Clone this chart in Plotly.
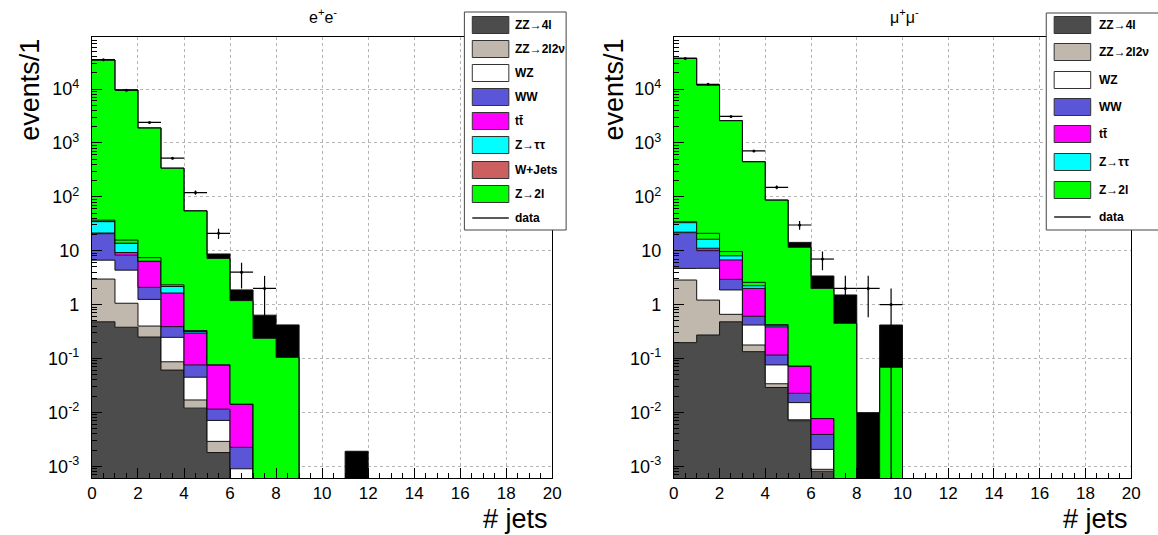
import numpy as np
import plotly.graph_objects as go

# ---------------- data (events per jet-multiplicity bin, bins 0..19) ----------------
n_bins = 20
bin_low = list(range(n_bins))

# e+e- channel
ee_zz4l   = [0.48, 0.38, 0.25, 0.061, 0.012, 0.0018]
ee_zz2l2v = [2.5, 0.68, 0.15, 0.026, 0.005, 0.0011]
ee_wz     = [3.7, 3.3, 0.85, 0.16, 0.028, 0.0042, 0.0009]
ee_ww     = [14.0, 3.9, 0.84, 0.143, 0.031, 0.0044, 0.00135]
ee_tt     = [0.6, 1.0, 4.2, 1.25, 0.22, 0.065, 0.012]
ee_ztt    = [13.3, 4.4, 0.1, 0.53, 0.02]
ee_wjets  = [0.3, 0.1]
ee_zll_b  = [2.0, 2.0, 1.05, 0.16, 0.014]
ee_zll    = [34560, 9584, 1893, 338, 54.7, 7.12, 1.17, 0.237, 0.105]
ee_other  = [0, 0, 0, 0, 0, 1.5, 0.69, 0.40, 0.315, 0, 0, 0.0019]
ee_data   = [35000, 9500, 2400, 520, 120, 21, 4, 2]

# mu+mu- channel
mm_zz4l   = [0.197, 0.273, 0.48, 0.134, 0.029, 0.007, 0.00081]
mm_zz2l2v = [2.66, 0.94, 0.18, 0.044, 0.005, 0.0003, 0.00007]
mm_wz     = [1.84, 3.5, 1.21, 0.24, 0.042, 0.0079, 0.00118]
mm_ww     = [16.9, 5.3, 1.07, 0.19, 0.040, 0.0074, 0.00184]
mm_tt     = [0.5, 1.1, 3.8, 1.39, 0.27, 0.05, 0.0038]
mm_ztt    = [11.0, 5.2, 1.3, 0.24, 0.02]
mm_zll_b  = [1.4, 4.7, 1.6, 0.35, 0.02]
mm_zll    = [37065, 11848, 2580, 446, 86.6, 11.5, 1.99, 0.45, 0, 0.0686]
mm_other  = [0, 0, 0, 0, 0, 2.7, 1.4, 1.06, 0.0099, 0.35]
mm_data   = [37000, 12200, 3100, 710, 150, 30, 7, 2, 2, 1]

sample_labels = ["ZZ\u21924l", "ZZ\u21922l2\u03bd", "WZ", "WW", "tt\u0304",
                 "Z\u2192\u03c4\u03c4", "W+Jets", "Z\u21922l"]
y_tick_vals = [1e-3, 1e-2, 1e-1, 1, 10, 1e2, 1e3, 1e4]
y_tick_text = ["10<sup>-3</sup>", "10<sup>-2</sup>", "10<sup>-1</sup>", "1", "10",
               "10<sup>2</sup>", "10<sup>3</sup>", "10<sup>4</sup>"]
x_tick_vals = list(range(0, 21, 2))

# ---------------- styles ----------------
COL = {"zz4l": "#4c4c4c", "zz2l2v": "#c0b7ad", "wz": "#ffffff", "ww": "#5b56d8",
       "tt": "#ff00ff", "ztt": "#00ffff", "wjets": "#cc5f5f", "zll": "#00ff00",
       "other": "#000000"}
FONT = "Liberation Sans, Arial, Helvetica, sans-serif"
W, H = 1158, 535
FLOOR = 1e-6


def full(v):
    a = np.zeros(n_bins)
    a[:len(v)] = v
    return a


def px(x):
    return x / W


def py(y):
    return 1 - y / H


fig = go.Figure()


def add_stack(comps, xa, ya):
    edges = np.arange(n_bins + 1)
    cum = np.zeros(n_bins)
    base = np.maximum(np.append(cum, cum[-1]), FLOOR)
    fig.add_trace(go.Scatter(x=edges, y=base, mode="lines", line=dict(width=0, shape="hv"),
                             xaxis=xa, yaxis=ya, showlegend=False, hoverinfo="skip"))
    for vals, color in comps:
        cum = cum + full(vals)
        yy = np.maximum(np.append(cum, cum[-1]), FLOOR)
        fig.add_trace(go.Scatter(x=edges, y=yy, mode="lines",
                                 line=dict(color="#111111", width=1, shape="hv"),
                                 fill="tonexty", fillcolor=color,
                                 xaxis=xa, yaxis=ya, showlegend=False))


def add_data(vals, xa, ya):
    v = np.array(vals, float)
    x = np.arange(len(v)) + 0.5
    err = np.sqrt(v)
    dn = np.minimum(err, v - 1e-5)
    fig.add_trace(go.Scatter(x=x, y=v, mode="markers",
                             marker=dict(color="black", size=3),
                             error_x=dict(type="constant", value=0.5, width=0, thickness=1.2, color="black"),
                             error_y=dict(type="data", array=err, arrayminus=dn, width=0,
                                          thickness=1.2, color="black"),
                             xaxis=xa, yaxis=ya, showlegend=False))


add_stack([(ee_zz4l, COL["zz4l"]), (ee_zz2l2v, COL["zz2l2v"]), (ee_wz, COL["wz"]),
           (ee_ww, COL["ww"]), (ee_tt, COL["tt"]), (ee_ztt, COL["ztt"]),
           (ee_wjets, COL["wjets"]), (ee_zll_b, COL["zll"]), (ee_zll, COL["zll"]),
           (ee_other, COL["other"])], "x", "y")
add_data(ee_data, "x", "y")

add_stack([(mm_zz4l, COL["zz4l"]), (mm_zz2l2v, COL["zz2l2v"]), (mm_wz, COL["wz"]),
           (mm_ww, COL["ww"]), (mm_tt, COL["tt"]), (mm_ztt, COL["ztt"]),
           (mm_zll_b, COL["zll"]), (mm_zll, COL["zll"]),
           (mm_other, COL["other"])], "x2", "y2")
add_data(mm_data, "x2", "y2")

minor_y = [k * 10.0 ** e for e in range(-4, 5) for k in range(2, 10)]

xax = dict(range=[0, 20], tickvals=x_tick_vals, ticks="inside", ticklen=10, tickcolor="black",
           showgrid=True, gridcolor="#b5b5b5", griddash="dot", gridwidth=1,
           showline=True, mirror=True, linecolor="black", linewidth=1, zeroline=False,
           tickfont=dict(family=FONT, size=17, color="black"),
           minor=dict(dtick=0.5, tick0=0, ticks="inside", ticklen=5, tickcolor="black", showgrid=False))
yax = dict(type="log", range=[-3.217, 4.965], tickvals=y_tick_vals, ticktext=y_tick_text,
           ticks="inside", ticklen=10, tickcolor="black",
           showgrid=True, gridcolor="#b5b5b5", griddash="dot", gridwidth=1,
           showline=True, mirror=True, linecolor="black", linewidth=1, zeroline=False,
           tickfont=dict(family=FONT, size=18, color="black"), ticklabelstandoff=8,
           minor=dict(tickmode="array", tickvals=minor_y, ticks="inside", ticklen=5,
                      tickcolor="black", showgrid=False))

fig.update_layout(
    width=W, height=H, margin=dict(l=0, r=0, t=0, b=0, pad=0),
    paper_bgcolor="white", plot_bgcolor="white", showlegend=False,
    xaxis=dict(xax, domain=[px(88), px(554)], anchor="y"),
    yaxis=dict(yax, domain=[py(478), py(37)], anchor="x"),
    xaxis2=dict(xax, domain=[px(677), px(1140)], anchor="y2"),
    yaxis2=dict(yax, domain=[py(478), py(37)], anchor="x2"),
)

ann = []
shapes = []
# titles and axis titles
for cx, title in [(322, "e<sup>+</sup>e<sup>-</sup>"), (911, "\u03bc<sup>+</sup>\u03bc<sup>-</sup>")]:
    ann.append(dict(x=px(cx), y=py(16), xref="paper", yref="paper", text=title, showarrow=False,
                     xanchor="center", yanchor="middle", font=dict(family=FONT, size=16, color="black")))
for xl, xr in [(25, 552), (616, 1139)]:
    ann.append(dict(x=px(xl), y=py(37), xref="paper", yref="paper", text="events/1", textangle=-90,
                     showarrow=False, xanchor="center", yanchor="top",
                     font=dict(family=FONT, size=27, color="black")))
    ann.append(dict(x=px(xr), y=py(519), xref="paper", yref="paper", text="# jets",
                     showarrow=False, xanchor="right", yanchor="middle",
                     font=dict(family=FONT, size=27, color="black")))

# legends (ROOT-style boxes)
legend_specs = [
    dict(box=(465, 12, 568, 230), sw=(473, 510), tx=514,
         rows=[25, 49, 73, 97, 121, 145, 170, 194], data_row=218,
         items=[0, 1, 2, 3, 4, 5, 6, 7]),
    dict(box=(1054, 13, 1170, 230), sw=(1062, 1099), tx=1105,
         rows=[25, 52, 80, 107, 134, 162, 190], data_row=217,
         items=[0, 1, 2, 3, 4, 5, 7]),
]
col_order = ["zz4l", "zz2l2v", "wz", "ww", "tt", "ztt", "wjets", "zll"]
for spec in legend_specs:
    x0, y0, x1, y1 = spec["box"]
    shapes.append(dict(type="rect", xref="paper", yref="paper", x0=px(x0), x1=px(x1),
                       y0=py(y1), y1=py(y0), fillcolor="white", line=dict(color="#444444", width=1),
                       layer="above"))
    for row, idx in zip(spec["rows"], spec["items"]):
        shapes.append(dict(type="rect", xref="paper", yref="paper", x0=px(spec["sw"][0]),
                           x1=px(spec["sw"][1]), y0=py(row + 8.5), y1=py(row - 8.5),
                           fillcolor=COL[col_order[idx]], line=dict(color="#333333", width=1),
                           layer="above"))
        ann.append(dict(x=px(spec["tx"]), y=py(row), xref="paper", yref="paper",
                        text="<b>%s</b>" % sample_labels[idx], showarrow=False,
                        xanchor="left", yanchor="middle", font=dict(family=FONT, size=12, color="black")))
    dr = spec["data_row"]
    shapes.append(dict(type="line", xref="paper", yref="paper", x0=px(spec["sw"][0]),
                       x1=px(spec["sw"][1]), y0=py(dr), y1=py(dr),
                       line=dict(color="#222222", width=1.5), layer="above"))
    ann.append(dict(x=px(spec["tx"]), y=py(dr), xref="paper", yref="paper",
                    text="<b>data</b>", showarrow=False,
                    xanchor="left", yanchor="middle", font=dict(family=FONT, size=12, color="black")))

fig.update_layout(annotations=ann, shapes=shapes)
fig.write_html("out.html")
